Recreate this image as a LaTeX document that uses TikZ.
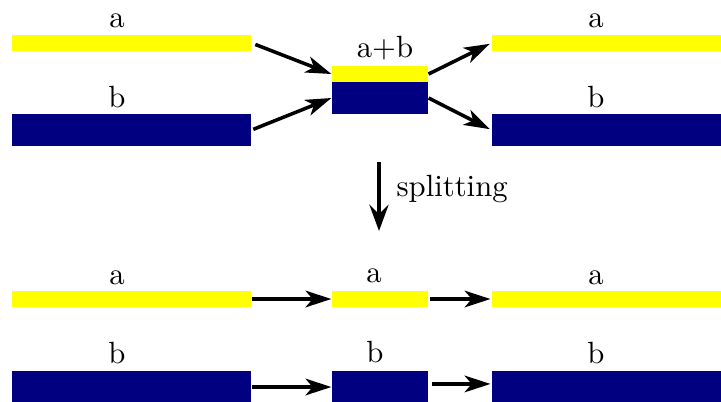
\documentclass[tikz,border=0pt]{standalone}
\usetikzlibrary{arrows.meta}
\definecolor{barY}{RGB}{255,255,0}
\definecolor{barB}{RGB}{0,0,128}
\begin{document}
\begin{tikzpicture}[x=0.3257pt,y=-0.3257pt,
  ybar/.style={fill=barY,draw=none,inner sep=0pt,minimum height=16*0.3257pt},
  bbar/.style={fill=barB,draw=none,inner sep=0pt,minimum height=32*0.3257pt},
  wide/.style={minimum width=239*0.3257pt},
  narrow/.style={minimum width=96*0.3257pt},
  lbl/.style={anchor=base,inner sep=0pt},
  conn/.style={line width=1.15pt,-{Stealth[length=8.4pt,width=5.4pt,inset=2.3pt]}},
  bigarrow/.style={line width=1.4pt,-{Stealth[length=8.5pt,width=6.2pt,inset=3pt]}}]
\useasboundingbox (0,0) rectangle (721,401);
% top row
\node[ybar,wide]   (tly) at (131.5,43) {};
\node[bbar,wide]   (tlb) at (131.5,130) {};
\node[ybar,narrow] (tmy) at (380,74) {};
\node[bbar,narrow] (tmb) at (380,98) {};
\node[ybar,wide]   (try) at (611.5,43) {};
\node[bbar,wide]   (trb) at (611.5,130) {};
\node[lbl] (la1) at (117,27) {a};
\node[lbl] (lb1) at (117,107) {b};
\node[lbl] (lab) at (385,57) {a+b};
\node[lbl] (ra1) at (596,27) {a};
\node[lbl] (rb1) at (596,107) {b};
\draw[conn,shorten <=1.3pt] (tly.east) -- (tmy.west);
\draw[conn,shorten <=0.6pt] (tlb.east) -- (tmb.west);
\draw[conn,shorten >=0.6pt] (tmy.east) -- (try.west);
\draw[conn,shorten >=0.6pt] (tmb.east) -- (trb.west);
% splitting
\coordinate (s1) at (379,162);
\coordinate (s2) at (379,231);
\draw[bigarrow] (s1) -- (s2);
\node[anchor=base west,inner sep=0pt] (split) at (396,196) {splitting};
% bottom row
\node[ybar,wide]   (bly) at (131.5,299) {};
\node[bbar,wide]   (blb) at (131.5,387) {};
\node[ybar,narrow] (bmy) at (380,299) {};
\node[bbar,narrow] (bmb) at (380,387) {};
\node[ybar,wide]   (bry) at (611.5,299) {};
\node[bbar,wide]   (brb) at (611.5,387) {};
\node[lbl] (la2) at (117,284) {a};
\node[lbl] (lb2) at (117,363) {b};
\node[lbl] (ma2) at (374,282) {a};
\node[lbl] (mb2) at (375,362) {b};
\node[lbl] (ra2) at (596,284) {a};
\node[lbl] (rb2) at (596,363) {b};
\draw[conn] (bly.east) -- (bmy.west);
\draw[conn,shorten <=0.6pt,shorten >=0.3pt] (bmy.east) -- (bry.west);
\draw[conn] (blb.east) -- (bmb.west);
\draw[conn,shorten <=1.2pt,shorten >=0.3pt] ([yshift=1pt]bmb.east) -- ([yshift=1pt]brb.west);
\end{tikzpicture}
\end{document}
